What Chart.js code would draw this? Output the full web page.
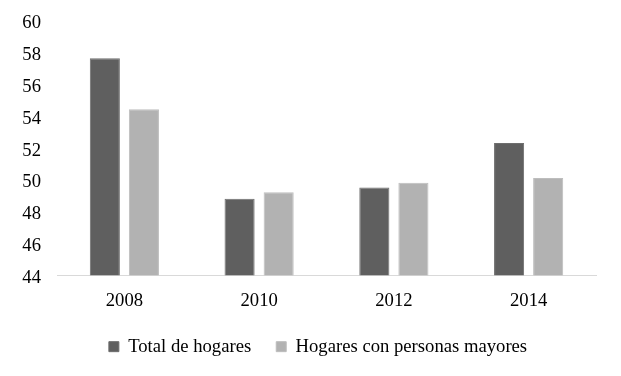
<!DOCTYPE html>
<html>
<head>
<meta charset="utf-8">
<script src="https://cdn.jsdelivr.net/npm/chart.js@4"></script>
<style>
  html, body { margin: 0; padding: 0; background: #ffffff; }
  #wrap { width: 621px; height: 376px; position: relative; }
</style>
</head>
<body>
<div id="wrap"><canvas id="c" width="621" height="376"></canvas></div>
<script>
const categories = ["2008", "2010", "2012", "2014"];
const totalHogares = [57.6, 48.8, 49.5, 52.3];
const hogaresMayores = [54.4, 49.2, 49.8, 50.1];
const seriesNames = ["Total de hogares", "Hogares con personas mayores"];
const yMin = 44, yMax = 60, yStep = 2;

const serif = "'Liberation Serif', 'Times New Roman', serif";
const fontSize = 18.67;

const shiftLegend = {
  id: 'shiftLegend',
  afterLayout(chart) {
    if (chart.legend) { chart.legend.left += 20; chart.legend.right += 20; }
  }
};

new Chart(document.getElementById('c'), {
  type: 'bar',
  data: {
    labels: categories,
    datasets: [
      { label: seriesNames[0], data: totalHogares, backgroundColor: '#5f5f5f', borderColor: '#6e6e6e', borderWidth: 1,
        barPercentage: 0.77, categoryPercentage: 0.58 },
      { label: seriesNames[1], data: hogaresMayores, backgroundColor: '#b2b2b2', borderColor: '#bdbdbd', borderWidth: 1,
        barPercentage: 0.77, categoryPercentage: 0.58 }
    ]
  },
  plugins: [shiftLegend],
  options: {
    responsive: false,
    animation: false,
    layout: { padding: { left: 0, right: 25, top: 20, bottom: 10 } },
    plugins: {
      tooltip: { enabled: false },
      legend: {
        position: 'bottom',
        labels: {
          boxWidth: 10, boxHeight: 10, padding: 25,
          color: '#000000',
          font: { family: serif, size: fontSize }
        }
      }
    },
    scales: {
      x: {
        grid: { display: false, drawTicks: false },
        border: { display: true, color: '#d9d9d9', width: 1 },
        ticks: { color: '#000000', font: { family: serif, size: fontSize }, padding: 15 },
        afterFit: function(scale) { scale.height = 37; }
      },
      y: {
        min: yMin, max: yMax,
        grid: { display: false, drawTicks: false },
        border: { display: false },
        ticks: { stepSize: yStep, color: '#000000', font: { family: serif, size: fontSize }, padding: 16, labelOffset: 3 },
        afterFit: function(scale) { scale.width = 57; scale.paddingTop = 0; scale.paddingBottom = 0; }
      }
    }
  }
});
</script>
</body>
</html>
